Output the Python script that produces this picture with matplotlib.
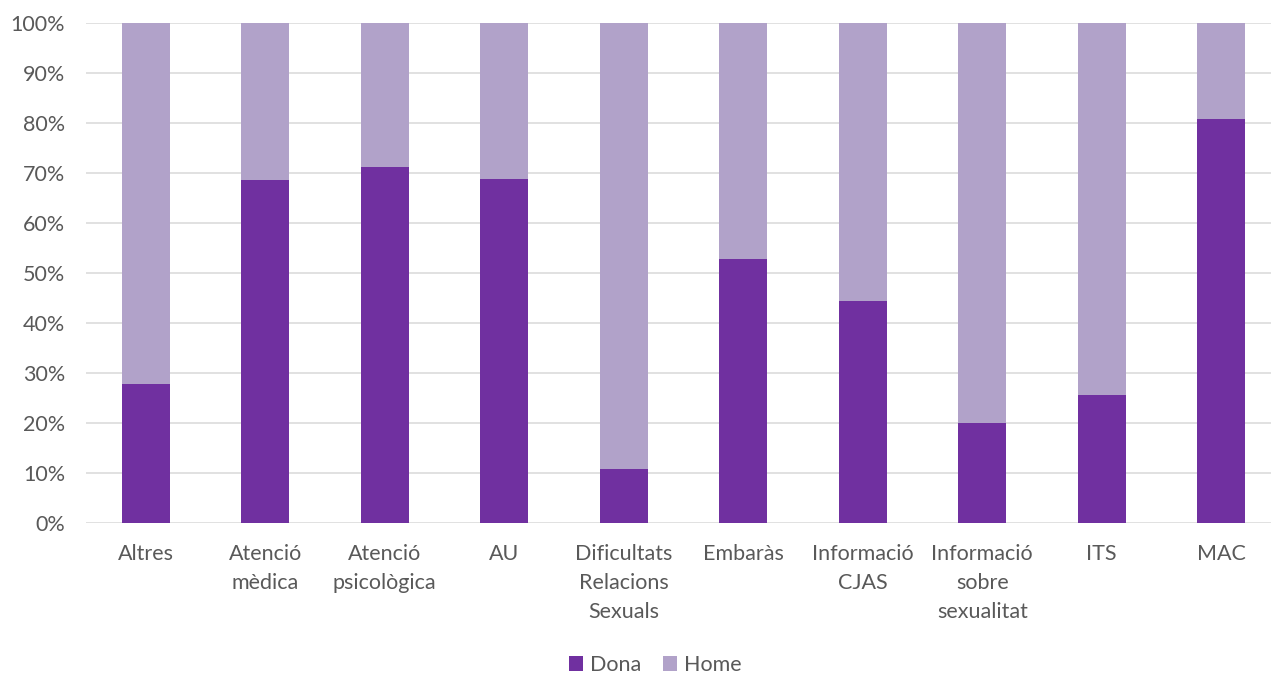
import matplotlib
matplotlib.use("Agg")
import matplotlib.pyplot as plt
from matplotlib.ticker import PercentFormatter

categories = ["Altres", "Atenció\nmèdica", "Atenció\npsicològica", "AU",
              "Dificultats\nRelacions\nSexuals", "Embaràs", "Informació\nCJAS",
              "Informació\nsobre\nsexualitat", "ITS", "MAC"]
dona = [27.8, 68.5, 71.2, 68.7, 10.7, 52.8, 44.4, 20.0, 25.6, 80.7]
home = [100 - v for v in dona]

plt.rcParams['font.family'] = ['Lato', 'DejaVu Sans']
text_color = '#595959'

fig = plt.figure(figsize=(12.71, 6.75), dpi=100)
ax = fig.add_axes([86 / 1271, 0.2252, 1195 / 1271, 0.7408])

x = range(len(categories))
ax.bar(x, dona, width=0.4, color='#7030A0', label='Dona', zorder=3)
ax.bar(x, home, width=0.4, bottom=dona, color='#B1A2C9', label='Home', zorder=3)

ax.set_xlim(-0.5, len(categories) - 0.5)
ax.set_ylim(0, 100)
ax.set_yticks(range(0, 101, 10))
ax.yaxis.set_major_formatter(PercentFormatter(decimals=0))
ax.grid(axis='y', color='#D9D9D9', linewidth=1.1, zorder=0)
for s in ax.spines.values():
    s.set_visible(False)
ax.tick_params(length=0, labelsize=15.5, colors=text_color)
ax.tick_params(axis='x', pad=15)
ax.tick_params(axis='y', pad=15)
ax.set_xticks(list(x))
ax.set_xticklabels(categories, linespacing=1.58)

fig.legend(*ax.get_legend_handles_labels(), loc='center',
           bbox_to_anchor=(655 / 1271, 1 - 665 / 675), ncol=2, frameon=False,
           fontsize=15.5, labelcolor=text_color, handlelength=0.68,
           handleheight=0.68, handletextpad=0.3, columnspacing=1.0)

fig.savefig('out.png', dpi=100)
